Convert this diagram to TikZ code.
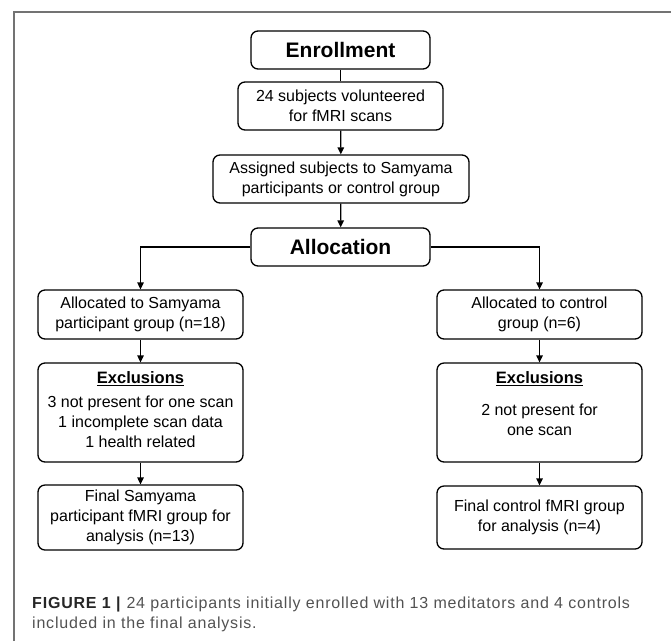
\documentclass[tikz,border=0pt]{standalone}
\usepackage{fontspec}
\setmainfont{Liberation Sans}
\newfontfamily\captionfont[LetterSpace=5]{Liberation Sans}
\usetikzlibrary{arrows.meta}
\begin{document}
\begin{tikzpicture}[x=1pt,y=-1pt,
  box/.style={draw, line width=1.3pt, rounded corners=7pt, align=center, inner sep=0pt,
    font=\fontsize{16}{20}\selectfont},
  headbox/.style={box, minimum width=179pt, minimum height=38pt, font=\fontsize{21}{24}\selectfont\bfseries},
  flow/.style={line width=1.3pt, -{Triangle[length=7pt,width=6.5pt]}}]
  \useasboundingbox (0,0) rectangle (671,641);
  \draw[black!55, line width=1.3pt] (14,641) -- (14,12) -- (671,12);
  \node[headbox] (enroll) at (340.5,50) {Enrollment};
  \node[box, minimum width=205pt, minimum height=48pt] (subj) at (340.5,106) {24 subjects volunteered\\for fMRI scans};
  \node[box, minimum width=256pt, minimum height=48pt] (assign) at (341,179) {Assigned subjects to Samyama\\participants or control group};
  \node[headbox] (alloc) at (340.5,247) {Allocation};
  \node[box, minimum width=205pt, minimum height=49pt] (samy) at (140.5,314.5) {Allocated to Samyama\\participant group (n=18)};
  \node[box, minimum width=205pt, minimum height=49pt] (ctrl) at (539.5,314.5) {Allocated to control\\group (n=6)};
  \node[box, minimum width=205pt, minimum height=99pt] (exL) at (140.5,412.5) {};
  \node[box, minimum width=205pt, minimum height=99pt] (exR) at (539.5,412.5) {};
  \node[box, draw=none, anchor=north] (exLtxt) at ([yshift=-9pt]exL.north) {\textbf{\fontsize{16.5}{20}\selectfont\underline{Exclusions}}\\[4pt]3 not present for one scan\\1 incomplete scan data\\1 health related};
  \node[box, draw=none, anchor=north] (exRtxt) at ([yshift=-9pt]exR.north) {\textbf{\fontsize{16.5}{20}\selectfont\underline{Exclusions}}\\[12pt]2 not present for\\one scan};
  \node[box, minimum width=205pt, minimum height=65pt] (finL) at (140.5,517.5) {Final Samyama\\participant fMRI group for\\analysis (n=13)};
  \node[box, minimum width=205pt, minimum height=63pt] (finR) at (539.5,517.5) {Final control fMRI group\\for analysis (n=4)};
  \draw[line width=1.3pt] (enroll) -- (subj);
  \draw[flow] (subj) -- (assign);
  \draw[flow] (assign) -- (alloc);
  \draw[flow] (alloc.west) -| (samy.north);
  \draw[flow] (alloc.east) -| (ctrl.north);
  \draw[flow] (samy) -- (exL);
  \draw[flow] (exL) -- (finL);
  \draw[flow] (ctrl) -- (exR);
  \draw[flow] (exR) -- (finR);
  \node[anchor=north west, align=left, inner sep=0pt, text=black!68, font=\captionfont\fontsize{16}{20}\selectfont] (caption) at (32,596.5)
    {{\color{black!85}\textbf{FIGURE 1 |}} 24 participants initially enrolled with 13 meditators and 4 controls\\included in the final analysis.};
\end{tikzpicture}
\end{document}
